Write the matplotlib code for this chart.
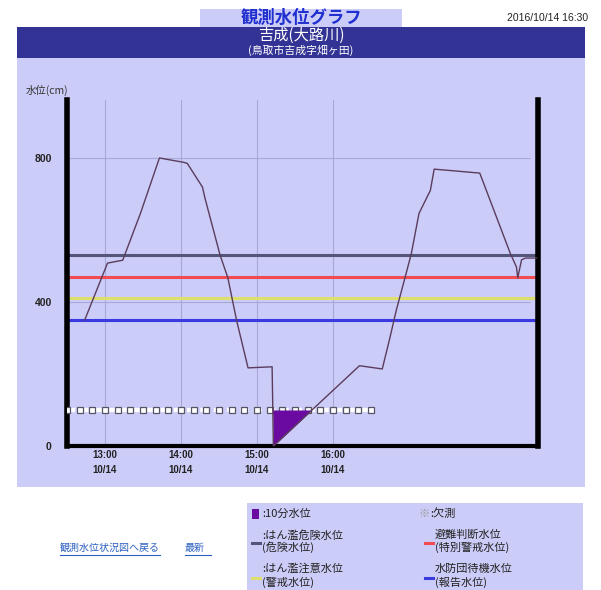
import matplotlib
matplotlib.use("Agg")
import matplotlib.pyplot as plt
from matplotlib.patches import Rectangle

plt.rcParams['font.family'] = ['Noto Sans CJK JP', 'DejaVu Sans']

# ---------------- data ----------------
level_times = ["12:44", "13:02", "13:14", "13:28", "13:43", "14:02", "14:05", "14:17",
               "14:19", "14:31", "14:37", "14:44", "14:53", "15:12", "15:13", "16:21",
               "16:39", "16:45", "16:50", "16:57", "17:02", "17:08", "17:17", "17:20",
               "17:56", "18:20", "18:25", "18:26", "18:29", "18:32", "18:41"]
level_values = [350, 508, 516, 646, 800, 788, 785, 719,
                688, 529, 468, 348, 217, 220, 0, 223,
                214, 300, 376, 468, 535, 646, 710, 769,
                758, 536, 497, 467, 517, 522, 522]

missing_times = ["12:30", "12:40", "12:50", "13:00", "13:10", "13:20", "13:30", "13:40",
                 "13:50", "14:00", "14:10", "14:20", "14:30", "14:40", "14:50", "15:00",
                 "15:10", "15:20", "15:30", "15:40", "15:50", "16:00", "16:10", "16:20", "16:30"]
missing_level = 100

threshold_names = ["はん濫危険水位", "避難判断水位", "はん濫注意水位", "水防団待機水位"]
threshold_values = [530, 470, 410, 350]
threshold_colors = ["#55557a", "#f04c52", "#dede6a", "#3a3ae0"]

xtick_times = ["13:00", "14:00", "15:00", "16:00"]
xtick_labels = ["13:00\n10/14", "14:00\n10/14", "15:00\n10/14", "16:00\n10/14"]
ytick_values = [0, 400, 800]


def to_h(s):
    h, m = s.split(":")
    return int(h) + int(m) / 60.0


lt = [to_h(t) for t in level_times]
mt = [to_h(t) for t in missing_times]
xt = [to_h(t) for t in xtick_times]

# ---------------- figure ----------------
W, H = 601, 590
fig = plt.figure(figsize=(W / 100, H / 100), dpi=100)
fig.patch.set_facecolor("white")

bg = fig.add_axes([0, 0, 1, 1])
bg.set_xlim(0, W)
bg.set_ylim(H, 0)
bg.axis("off")

LAV = "#ccccf8"
NAVY = "#333395"

# panel
bg.add_patch(Rectangle((17, 27), 568, 460, facecolor=LAV, edgecolor="none"))
# navy band
bg.add_patch(Rectangle((17, 27), 568, 31, facecolor=NAVY, edgecolor="none"))
# title box
bg.add_patch(Rectangle((200, 9), 202, 18, facecolor=LAV, edgecolor="none"))
bg.text(301, 18, "観測水位グラフ", color="#1f2fd0", fontsize=12.5, fontweight="bold",
        ha="center", va="center")
bg.text(301, 35.5, "吉成(大路川)", color="white", fontsize=11, ha="center", va="center")
bg.text(301, 50.5, "(鳥取市吉成字畑ヶ田)", color="white", fontsize=7.8, ha="center", va="center")
bg.text(588, 18, "2016/10/14 16:30", color="#222222", fontsize=7.5, ha="right", va="center",
        family=["Liberation Sans", "DejaVu Sans"])

bg.text(26, 90, "水位(cm)", color="#333333", fontsize=7.5, ha="left", va="center")

# links
bg.text(60, 548, "観測水位状況図へ戻る", color="#2a5fc0", fontsize=7.2, ha="left", va="center")
bg.plot([60, 160], [555, 555], color="#2a5fc0", lw=0.8)
bg.text(185, 548, "最新", color="#2a5fc0", fontsize=7.2, ha="left", va="center")
bg.plot([185, 211], [555, 555], color="#2a5fc0", lw=0.8)

# legend box
bg.add_patch(Rectangle((247, 503), 336, 90, facecolor=LAV, edgecolor="none"))
bg.add_patch(Rectangle((252, 509), 7, 10, facecolor="#6a0aa0", edgecolor="none"))
bg.text(262, 514, ":10分水位", color="#222222", fontsize=8, ha="left", va="center")
bg.text(418, 514, "※", color="#999999", fontsize=8, ha="left", va="center")
bg.text(430, 514, ":欠測", color="#222222", fontsize=8, ha="left", va="center")

leg_pos = [(252, 535, 547), (425, 535, 547), (252, 569, 582), (425, 569, 582)]
leg_sub = ["(危険水位)", "(特別警戒水位)", "(警戒水位)", "(報告水位)"]
for (x, y1, y2), name, sub, col in zip(leg_pos, threshold_names, leg_sub, threshold_colors):
    bg.plot([x, x + 8], [(y1 + y2) / 2 + 2, (y1 + y2) / 2 + 2], color=col, lw=2.2)
    prefix = ":" if x < 300 else ""
    bg.text(x + 10, y1, prefix + name, color="#222222", fontsize=8, ha="left", va="center")
    bg.text(x + 10, y2, sub, color="#222222", fontsize=8, ha="left", va="center")

# ---------------- main axes ----------------
L, R, T, B = 67, 538, 100, 446
ax = fig.add_axes([L / W, (H - B) / H, (R - L) / W, (B - T) / H])
ax.set_facecolor("none")
ax.set_xlim(12.5, 18.7)
ax.set_ylim(0, 961)

# grid
for x in xt:
    ax.axvline(x, color="#a8a8d8", lw=0.8, zorder=1)
for y in [400, 800]:
    ax.hlines(y, 12.5, 18.6, color="#a8a8d8", lw=0.8, zorder=1)

# thresholds
for v, c in zip(threshold_values, threshold_colors):
    ax.axhline(v, color=c, lw=2.2, zorder=2)

# missing markers
ax.plot(mt, [missing_level] * len(mt), color="white", lw=3, ls=(0, (2, 1.2)), zorder=3)
ax.plot(mt, [missing_level] * len(mt), ls="none", marker="s", ms=3.8,
        mfc="white", mec="#555566", mew=0.9, zorder=4)

# 10 min fill below missing level
ax.fill_between(lt, level_values, missing_level,
                where=[v <= missing_level for v in level_values],
                interpolate=True, color="#6a0aa0", lw=0, zorder=5)

# water level line
ax.plot(lt, level_values, color="#5a3c5c", lw=1, zorder=6)

# spines
ax.spines["top"].set_visible(False)
ax.spines["left"].set_linewidth(4)
ax.spines["right"].set_linewidth(4)
ax.spines["bottom"].set_linewidth(3)
for s in ["left", "right", "bottom"]:
    ax.spines[s].set_color("black")

ax.set_yticks(ytick_values)
ax.set_yticklabels([str(v) for v in ytick_values])
ax.set_xticks(xt)
ax.set_xticklabels(xtick_labels)
ax.tick_params(axis="y", length=0, pad=11, labelsize=7.5, labelcolor="#222222")
ax.tick_params(axis="x", length=0, pad=3, labelsize=7, labelcolor="#222222")
for lab in ax.get_yticklabels() + ax.get_xticklabels():
    lab.set_fontweight("bold")
    lab.set_family(["Liberation Sans", "DejaVu Sans"])
for lab in ax.get_xticklabels():
    lab.set_linespacing(1.6)

fig.savefig("out.png", dpi=100, facecolor="white")
